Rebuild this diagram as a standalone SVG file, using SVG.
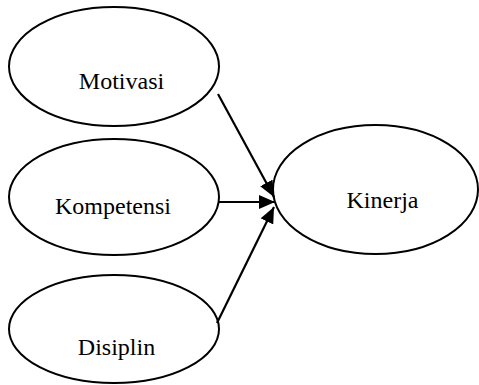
<svg xmlns="http://www.w3.org/2000/svg" width="479" height="385" viewBox="0 0 479 385">
<style>
.node ellipse{fill:#fff;stroke:#000;stroke-width:2}
.node text{font-family:'Liberation Serif','Times New Roman',Times,serif;font-size:24px;fill:#000;text-anchor:middle}
.conn line{stroke:#000;stroke-width:2.2}
</style>
<defs>
<marker id="ah" markerUnits="userSpaceOnUse" markerWidth="16" markerHeight="14" refX="16" refY="7" orient="auto">
<path d="M0,0 L16,7 L0,14 Z" fill="#000"/>
</marker>
</defs>
<rect width="479" height="385" fill="#fff"/>
<g id="motivasi" class="node">
<ellipse cx="114" cy="66.5" rx="105" ry="59.5"/>
<text x="121.5" y="89" font-family="Liberation Serif, serif">Motivasi</text>
</g>
<g id="kompetensi" class="node">
<ellipse cx="114" cy="197" rx="105" ry="58"/>
<text x="113" y="214" font-family="Liberation Serif, serif">Kompetensi</text>
</g>
<g id="disiplin" class="node">
<ellipse cx="114" cy="329" rx="105" ry="54"/>
<text x="116.5" y="355" font-family="Liberation Serif, serif">Disiplin</text>
</g>
<g id="kinerja" class="node">
<ellipse cx="375.5" cy="189.5" rx="102.5" ry="64.5"/>
<text x="382.5" y="208" font-family="Liberation Serif, serif">Kinerja</text>
</g>
<g id="connectors" class="conn">
<line x1="218" y1="94" x2="274" y2="197" marker-end="url(#ah)"/>
<line x1="218" y1="202" x2="275" y2="202" marker-end="url(#ah)"/>
<line x1="217" y1="323" x2="274" y2="207" marker-end="url(#ah)"/>
</g>
</svg>
